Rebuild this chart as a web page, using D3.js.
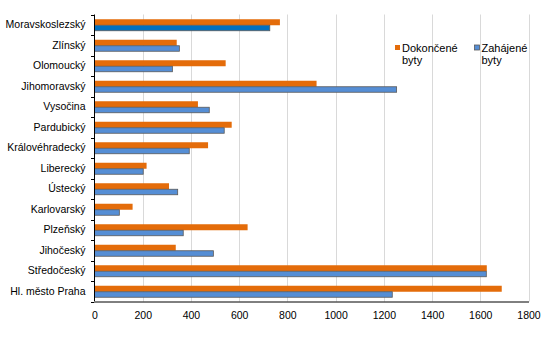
<!DOCTYPE html>
<html><head><meta charset="utf-8">
<script src="https://cdn.jsdelivr.net/npm/d3@7"></script>
<style>body{margin:0;background:#fff}text{font-family:"Liberation Sans",Arial,sans-serif}</style>
</head><body>
<svg id="c" width="551" height="348"></svg>
<script>
const regions = ["Moravskoslezský","Zlínský","Olomoucký","Jihomoravský","Vysočina","Pardubický","Královéhradecký","Liberecký","Ústecký","Karlovarský","Plzeňský","Jihočeský","Středočeský","Hl. město Praha"];
const completed = [769,341,544,921,429,569,471,216,309,158,635,337,1627,1689];
const started = [727,352,323,1253,476,538,393,202,345,103,368,493,1625,1235];
const seriesNames = ["Dokončené byty","Zahájené byty"];
const xTicks = [0,200,400,600,800,1000,1200,1400,1600,1800];

(function(){
const svg = d3.select("#c");
const mLeft = 94.5, mRight = 528.5, mTop = 14.5, mBottom = 301.5;
const x = d3.scaleLinear().domain([0,1800]).range([mLeft,mRight]);
const y = d3.scaleBand().domain(regions).range([mTop,mBottom]);
const orange = "#e46c0a", blue = "#558ed5", darkBlue = "#0070c0";
const FF = "Liberation Sans, Arial, sans-serif";

// gridlines
svg.append("g").selectAll("line").data(xTicks.slice(1)).join("line")
  .attr("x1",d=>Math.round(x(d))+0.5).attr("x2",d=>Math.round(x(d))+0.5)
  .attr("y1",mTop).attr("y2",mBottom)
  .attr("stroke","#d9d9d9").attr("stroke-width",1);

const g = svg.append("g");
regions.forEach((r,i)=>{
  const c = y(r)+y.bandwidth()/2;
  g.append("rect").attr("x",x(0)).attr("y",c-5.5).attr("width",x(completed[i])-x(0)).attr("height",6).attr("fill",orange);
  g.append("rect").attr("x",x(0)).attr("y",c+0.5).attr("width",x(started[i])-x(0)).attr("height",5.5)
    .attr("fill",i===0?darkBlue:blue).attr("stroke","#595959").attr("stroke-width",0.8);
});

// y axis
const ya = svg.append("g").attr("transform",`translate(${mLeft},0)`)
  .call(d3.axisLeft(y).tickSize(0).tickPadding(9));
ya.select(".domain").remove();
ya.selectAll("text").attr("font-size","10.5px").attr("fill","#000").attr("font-family",FF);
const bounds = regions.map(r=>y(r)).concat([mBottom]);
svg.append("g").selectAll("line").data(bounds).join("line")
  .attr("x1",mLeft-3.5).attr("x2",mLeft).attr("y1",d=>Math.round(d)+0.5).attr("y2",d=>Math.round(d)+0.5)
  .attr("stroke","#000");
svg.append("line").attr("x1",mLeft).attr("x2",mLeft).attr("y1",mTop).attr("y2",mBottom).attr("stroke","#000");

// x axis
const xa = svg.append("g").attr("transform",`translate(0,${mBottom})`)
  .call(d3.axisBottom(x).tickValues(xTicks).tickFormat(d3.format("d")).tickSize(0).tickPadding(10));
xa.select(".domain").attr("stroke","#000");
xa.selectAll("text").attr("font-size","10.5px").attr("fill","#000").attr("font-family",FF);

// legend
const leg = [{n:seriesNames[0],c:orange,x:395},{n:seriesNames[1],c:blue,x:474.5}];
leg.forEach(l=>{
  svg.append("rect").attr("x",l.x).attr("y",45).attr("width",5).attr("height",5).attr("fill",l.c)
    .attr("stroke",l.c===blue?"#595959":"none").attr("stroke-width",0.8);
  const parts = l.n.split(" ");
  const t = svg.append("text").attr("x",l.x+7).attr("y",52).attr("font-size","11px").attr("fill","#000").attr("font-family",FF);
  t.append("tspan").attr("x",l.x+7).text(parts[0]);
  t.append("tspan").attr("x",l.x+7).attr("dy",12).text(parts[1]);
});
})();
</script>
</body></html>
